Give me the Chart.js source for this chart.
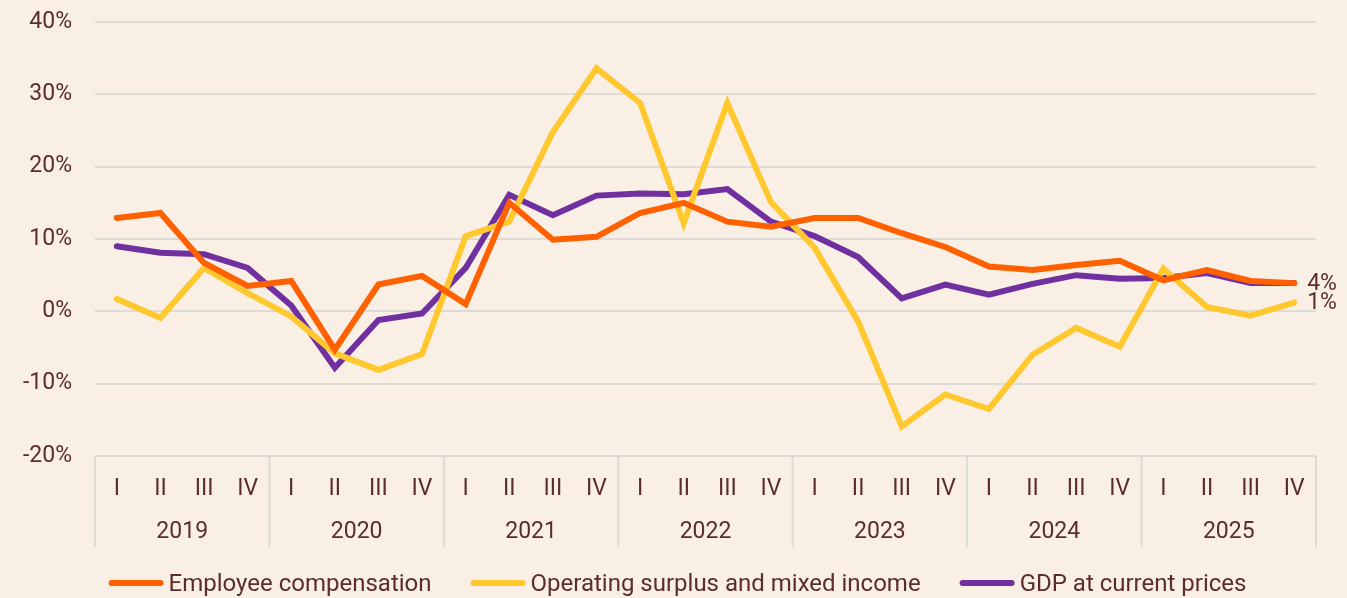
<!DOCTYPE html>
<html>
<head>
<meta charset="utf-8">
<script src="https://cdn.jsdelivr.net/npm/chart.js@4"></script>
<style>
    html, body { margin: 0; padding: 0; background: #f9efe5; }
    #wrap { width: 1347px; height: 598px; }
</style>
</head>
<body>
<div id="wrap"><canvas id="chart"></canvas></div>
<script>
// ----------------------------------------------------------------------------
// Data
// ----------------------------------------------------------------------------
const years = ['2019', '2020', '2021', '2022', '2023', '2024', '2025'];
const quarters = ['I', 'II', 'III', 'IV'];
const yTicks = [-20, -10, 0, 10, 20, 30, 40];

const employeeCompensation = [
    12.9, 13.6, 6.7, 3.5,
    4.2, -5.3, 3.7, 4.9,
    1.0, 15.0, 9.9, 10.3,
    13.6, 15.0, 12.4, 11.7,
    12.9, 12.9, 10.8, 8.9,
    6.2, 5.7, 6.4, 7.0,
    4.3, 5.7, 4.2, 3.9,
];
const operatingSurplus = [
    1.7, -0.9, 6.0, 2.5,
    -0.7, -5.8, -8.1, -5.9,
    10.4, 12.4, 24.8, 33.6,
    28.8, 12.2, 28.8, 15.1,
    8.8, -1.4, -15.9, -11.5,
    -13.5, -6.0, -2.3, -4.9,
    5.9, 0.6, -0.6, 1.2,
];
const gdpCurrentPrices = [
    9.0, 8.1, 7.9, 6.0,
    0.8, -7.8, -1.2, -0.3,
    6.0, 16.1, 13.3, 16.0,
    16.3, 16.2, 16.9, 12.4,
    10.4, 7.5, 1.8, 3.7,
    2.3, 3.8, 5.0, 4.5,
    4.6, 5.3, 3.9, 3.9,
];
const endLabels = ['4%', '1%'];

const textColor = '#5b2e2b';
const gridColor = '#dedad5';
const fontFamily = 'Roboto, "Noto Sans", sans-serif';

// one label per quarter, year row is drawn by the plugin below
const labels = years.flatMap(() => quarters);

// ----------------------------------------------------------------------------
// Plugins
// ----------------------------------------------------------------------------
const yearAxisPlugin = {
    id: 'yearAxis',
    afterDraw(chart) {
        const { ctx, chartArea, scales } = chart;
        const x = scales.x;
        const top = chartArea.bottom;
        const bottom = top + 91;
        const step = x.getPixelForValue(1) - x.getPixelForValue(0);
        ctx.save();
        ctx.strokeStyle = gridColor;
        ctx.lineWidth = 2;
        ctx.fillStyle = textColor;
        ctx.font = '23px ' + fontFamily;
        ctx.textAlign = 'center';
        ctx.textBaseline = 'middle';
        years.forEach((yr, i) => {
            const first = x.getPixelForValue(i * quarters.length);
            const last = x.getPixelForValue(i * quarters.length + quarters.length - 1);
            const left = first - step / 2;
            ctx.beginPath();
            ctx.moveTo(left, top);
            ctx.lineTo(left, bottom);
            ctx.stroke();
            ctx.fillText(yr, (first + last) / 2, top + 76);
        });
        ctx.beginPath();
        ctx.moveTo(chartArea.right, top);
        ctx.lineTo(chartArea.right, bottom);
        ctx.stroke();
        ctx.restore();
    }
};

const endLabelPlugin = {
    id: 'endLabels',
    afterDatasetsDraw(chart) {
        const { ctx } = chart;
        const targets = [0, 1]; // employee comp / operating surplus end values
        ctx.save();
        ctx.fillStyle = textColor;
        ctx.font = '23px ' + fontFamily;
        ctx.textAlign = 'left';
        ctx.textBaseline = 'middle';
        targets.forEach((dsIdx, i) => {
            const meta = chart.getDatasetMeta(dsIdx);
            const pt = meta.data[meta.data.length - 1];
            ctx.fillText(endLabels[i], pt.x + 13, pt.y + 1);
        });
        ctx.restore();
    }
};

// legend drawn by hand: short thick line, small gap, label
const lineLegendPlugin = {
    id: 'lineLegend',
    afterDraw(chart) {
        const { ctx, width } = chart;
        const lineLen = 55, gapText = 5, gapItem = 39, y = 584;
        ctx.save();
        ctx.font = '24px ' + fontFamily;
        const items = chart.data.datasets.map(ds => ({
            label: ds.label,
            color: ds.borderColor,
            w: ctx.measureText(ds.label).width,
        }));
        const total = items.reduce((s, it) => s + lineLen + gapText + it.w, 0) + gapItem * (items.length - 1);
        let x = (width - total) / 2 + 4;
        ctx.textBaseline = 'middle';
        ctx.textAlign = 'left';
        ctx.lineCap = 'round';
        ctx.lineWidth = 6;
        items.forEach(it => {
            ctx.strokeStyle = it.color;
            ctx.beginPath();
            ctx.moveTo(x + 3, y - 1);
            ctx.lineTo(x + lineLen - 3, y - 1);
            ctx.stroke();
            ctx.fillStyle = textColor;
            ctx.fillText(it.label, x + lineLen + gapText, y + 1);
            x += lineLen + gapText + it.w + gapItem;
        });
        ctx.restore();
    }
};

// ----------------------------------------------------------------------------
// Chart
// ----------------------------------------------------------------------------
function makeDataset(label, data, color) {
    return {
        label,
        data,
        borderColor: color,
        backgroundColor: color,
        borderWidth: 6,
        pointRadius: 0,
        tension: 0,
        borderJoinStyle: 'miter',
        borderCapStyle: 'round',
    };
}

new Chart(document.getElementById('chart'), {
    type: 'line',
    data: {
        labels,
        datasets: [
            makeDataset('Employee compensation', employeeCompensation, '#ff6000'),
            makeDataset('Operating surplus and mixed income', operatingSurplus, '#fec82e'),
            makeDataset('GDP at current prices', gdpCurrentPrices, '#7030a0'),
        ],
    },
    options: {
        responsive: true,
        maintainAspectRatio: false,
        animation: false,
        layout: { padding: { top: 22, right: 31, left: 0, bottom: 50 } },
        plugins: {
            legend: { display: false },
            tooltip: { enabled: false },
        },
        scales: {
            x: {
                offset: true,
                grid: { display: false },
                border: { display: false },
                ticks: {
                    color: textColor,
                    font: { family: fontFamily, size: 23 },
                    padding: 11,
                    maxRotation: 0,
                    autoSkip: false,
                },
                afterFit: s => { s.height = 92; },
            },
            y: {
                min: -20,
                max: 40,
                afterBuildTicks: s => { s.ticks = yTicks.map(v => ({ value: v })); },
                grid: { color: gridColor, lineWidth: 2, drawTicks: false },
                border: { display: false },
                ticks: {
                    color: textColor,
                    font: { family: fontFamily, size: 23 },
                    padding: 23,
                    callback: v => v + '%',
                },
                afterFit: s => {
                    s.width = 95;
                    s.paddingTop = 0;
                    s.paddingBottom = 0;
                },
            },
        },
    },
    plugins: [yearAxisPlugin, endLabelPlugin, lineLegendPlugin],
});
</script>
</body>
</html>
